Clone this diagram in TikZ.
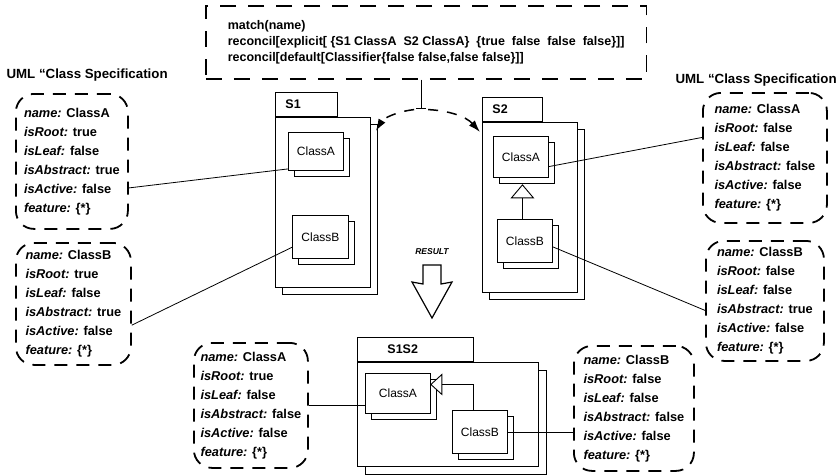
\documentclass[tikz,border=0pt]{standalone}
\usepackage{fontspec}
\setmainfont{Liberation Sans}
\usetikzlibrary{shadows,arrows.meta,calc}
\newcommand\infoline[2]{\textit{#1:} #2}
\begin{document}
\begin{tikzpicture}[x=1pt,y=-1pt,
  infobox/.style={draw, line width=1.8pt, dash pattern=on 13pt off 9pt, rounded corners=18pt, anchor=north west, inner xsep=5pt, inner ysep=0pt, align=left, font=\fontsize{12.8}{19}\selectfont\bfseries},
  sh/.style={general shadow={shadow xshift=#1, shadow yshift=-#1, draw, fill=white, line width=1.3pt}},
  pkg/.style={draw, fill=white, line width=0.9pt, inner sep=0pt, anchor=north west},
  tab/.style={draw, fill=white, line width=0.9pt, anchor=south west, inner ysep=0pt, minimum height=24pt, align=left, font=\fontsize{12.5}{14}\selectfont\bfseries},
  cls/.style={draw, fill=white, line width=0.9pt, inner sep=0pt, anchor=north west, font=\fontsize{12}{14}\selectfont},
  conn/.style={line width=0.8pt},
  arc/.style={line width=1.5pt, dash pattern=on 10pt off 9pt, -{Latex[length=12pt,width=8pt]}},
  lbl/.style={anchor=west, font=\fontsize{13.3}{15}\selectfont\bfseries},
]
\fill[white] (0,0) rectangle (837,474);
\useasboundingbox (0,0) rectangle (837,474);

% top specification box
\node[draw, line width=1.6pt, dash pattern=on 16pt off 12pt, anchor=north west, minimum width=440pt, minimum height=73pt, inner xsep=22pt, align=left, font=\fontsize{12.5}{16}\selectfont\bfseries] (top) at (205,5)
 {match(name)\\
  reconcil[explicit[ \{S1 ClassA\ \ S2 ClassA\}\ \ \{true\ \ false\ \ false\ \ false\}]]\\
  reconcil[default[Classifier\{false false,false false\}]]};

% labels
\node[lbl] (ul) at (3,75) {UML ``Class Specification};
\node[lbl] (ur) at (672,80) {UML ``Class Specification};

% packages
\node[pkg, sh=7pt, minimum width=95pt, minimum height=170pt] (s1) at (275,117) {};
\node[tab, inner xsep=10pt, text width=42pt] (s1t) at (s1.north west) {S1};
\node[pkg, sh=7pt, minimum width=95pt, minimum height=170pt] (s2) at (482,122) {};
\node[tab, inner xsep=10pt, text width=40pt] (s2t) at (s2.north west) {S2};
\node[pkg, sh=8pt, minimum width=181pt, minimum height=104pt] (s12) at (357,362) {};
\node[tab, inner xsep=30pt, text width=56pt] (s12t) at (s12.north west) {S1S2};

% classes
\node[cls, sh=6pt, minimum width=55pt, minimum height=38pt] (s1a) at (288,132) {ClassA};
\node[cls, sh=6pt, minimum width=56pt, minimum height=43pt] (s1b) at (292,215) {ClassB};
\node[cls, sh=6pt, minimum width=55pt, minimum height=41pt] (s2a) at (493,136) {ClassA};
\node[cls, sh=6pt, minimum width=55pt, minimum height=43pt] (s2b) at (497,219) {ClassB};
\node[cls, sh=6pt, minimum width=65pt, minimum height=40pt] (s12a) at (365,373) {ClassA};
\node[cls, sh=6pt, minimum width=55pt, minimum height=43pt] (s12b) at (452,410) {ClassB};

% info boxes
\node[infobox, minimum width=112pt, minimum height=135pt] (la) at (15,93)
 {\infoline{name}{ClassA}\\ \infoline{isRoot}{true}\\ \infoline{isLeaf}{false}\\ \infoline{isAbstract}{true}\\ \infoline{isActive}{false}\\ \infoline{feature}{\{*\}}};
\node[infobox, minimum width=115pt, minimum height=122pt] (lb) at (15,242)
 {\infoline{name}{ClassB}\\ \infoline{isRoot}{true}\\ \infoline{isLeaf}{false}\\ \infoline{isAbstract}{true}\\ \infoline{isActive}{false}\\ \infoline{feature}{\{*\}}};
\node[infobox, minimum width=124pt, minimum height=130pt] (ra) at (702,92)
 {\infoline{name}{ClassA}\\ \infoline{isRoot}{false}\\ \infoline{isLeaf}{false}\\ \infoline{isAbstract}{false}\\ \infoline{isActive}{false}\\ \infoline{feature}{\{*\}}};
\node[infobox, minimum width=118pt, minimum height=120pt] (rb) at (705,240)
 {\infoline{name}{ClassB}\\ \infoline{isRoot}{false}\\ \infoline{isLeaf}{false}\\ \infoline{isAbstract}{true}\\ \infoline{isActive}{false}\\ \infoline{feature}{\{*\}}};
\node[infobox, minimum width=114pt, minimum height=125pt] (bl) at (193,342)
 {\infoline{name}{ClassA}\\ \infoline{isRoot}{true}\\ \infoline{isLeaf}{false}\\ \infoline{isAbstract}{false}\\ \infoline{isActive}{false}\\ \infoline{feature}{\{*\}}};
\node[infobox, minimum width=120pt, minimum height=125pt] (br) at (573,345)
 {\infoline{name}{ClassB}\\ \infoline{isRoot}{false}\\ \infoline{isLeaf}{false}\\ \infoline{isAbstract}{false}\\ \infoline{isActive}{false}\\ \infoline{feature}{\{*\}}};

% connectors
\draw[conn] (la.-25) -- (s1a.212);
\draw[conn] (lb.-20) -- (s1b.200);
\draw[conn] (s2a.-19) -- (ra.162);
\draw[conn] (s2b.-12) -- (rb.189);
\draw[conn] (bl.east) -- (bl.east -| s12a.west);
\draw[conn] (s12b.east) -- (s12b.east -| br.west);

% generalization in S2
\coordinate (g1) at ($(s2a.south)+(1.5,7)$);
\draw[line width=0.9pt, fill=white] (g1) -- ++(11,13) -- ++(-22,0) -- cycle;
\draw[conn] ($(g1)+(0,13)$) -- (g1 |- s2b.north);

% generalization in S1S2
\coordinate (g2) at ($(s12a.east)+(0,-9)$);
\draw[line width=0.9pt, fill=white] (g2) -- ++(11,-10) -- ++(0,20) -- cycle;
\draw[conn] ($(g2)+(11,0)$) -| ($(s12b.north)+(-7,0)$);

% tick and dashed arrows
\coordinate (tk) at ($(top.south)+(-5,29)$);
\draw[line width=1.2pt] ($(top.south)+(-5,0)$) -- (tk);
\draw[line width=1.2pt] ($(tk)+(-5,0)$) -- ($(tk)+(5,0)$);
\draw[arc] ($(tk)+(-7,1)$) .. controls ($(tk)+(-25,3)$) and ($(tk)+(-38,10)$) .. ($(s1.north east)+(5,14)$);
\draw[arc] ($(tk)+(7,1)$) .. controls ($(tk)+(28,2)$) and ($(tk)+(45,8)$) .. ($(s2.north west)+(-2,10)$);

% result arrow
\node[font=\fontsize{8.5}{10}\selectfont\bfseries\itshape] (res) at (432,252) {RESULT};
\draw[line width=1.2pt, fill=white] (423,265) -- (441,265) -- (441,284) -- (452,282) -- (432,318) -- (412,282) -- (423,284) -- cycle;
\end{tikzpicture}
\end{document}
